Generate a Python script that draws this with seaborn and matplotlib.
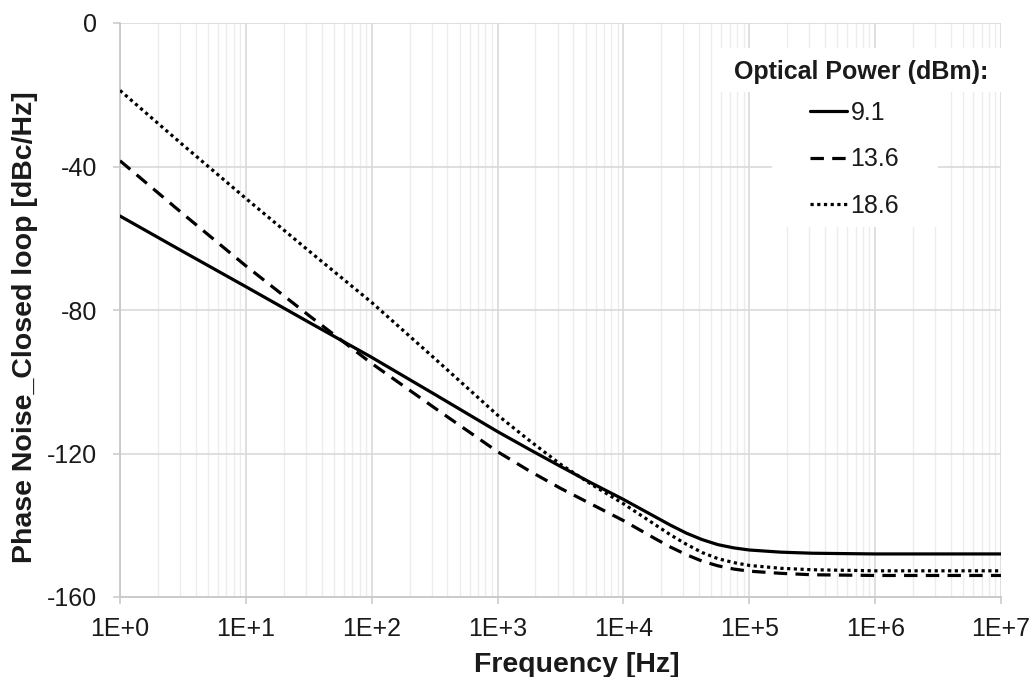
import numpy as np
import pandas as pd
import matplotlib
matplotlib.use("Agg")
import matplotlib.pyplot as plt
from matplotlib.patches import Rectangle
import seaborn as sns
from matplotlib.ticker import FixedLocator, FuncFormatter, LogLocator, NullFormatter

# ---- data (x = log10 frequency) ----
log_freq = [0, 0.5, 1, 1.5, 2, 2.5, 3, 3.25, 3.5, 3.75, 4, 4.125, 4.25, 4.375, 4.5,
            4.625, 4.75, 4.875, 5, 5.25, 5.5, 6, 7]
pn_9_1 = [-53.8, -63.7, -73.5, -83.4, -93.2, -103.5, -113.9, -118.8, -123.6, -128.3,
          -132.8, -135.2, -137.6, -140.0, -142.2, -144.0, -145.4, -146.3, -146.9,
          -147.5, -147.8, -148.0, -148.0]
pn_13_6 = [-38.4, -53.2, -67.7, -81.5, -94.9, -107.3, -119.5, -124.8, -129.7, -134.2,
           -138.7, -141.2, -143.7, -146.1, -148.2, -150.0, -151.3, -152.2, -152.8,
           -153.4, -153.8, -154.0, -154.0]
pn_18_6 = [-18.8, -34.0, -48.9, -63.5, -77.9, -93.5, -109.3, -116.3, -123.0, -128.7,
           -134.0, -136.9, -139.8, -142.7, -145.3, -147.6, -149.3, -150.4, -151.2,
           -152.0, -152.4, -152.7, -152.7]
series_labels = ["9.1", "13.6", "18.6"]
legend_title = "Optical Power (dBm):"
x_label = "Frequency [Hz]"
y_label = "Phase Noise_Closed loop [dBc/Hz]"
x_tick_labels = ["1E+0", "1E+1", "1E+2", "1E+3", "1E+4", "1E+5", "1E+6", "1E+7"]
y_ticks = [-160, -120, -80, -40, 0]

freq = [10 ** v for v in log_freq]
df = pd.DataFrame({
    "freq": freq * 3,
    "pn": pn_9_1 + pn_13_6 + pn_18_6,
    "power": sum([[s] * len(freq) for s in series_labels], []),
})

sns.set_style("white")
plt.rcParams["font.family"] = ["Liberation Sans", "DejaVu Sans"]
plt.rcParams["axes.unicode_minus"] = False

W, H = 1032, 677
fig = plt.figure(figsize=(W / 100, H / 100), dpi=100)
ax = fig.add_axes([120 / W, (H - 597) / H, (1001 - 120) / W, (597 - 23) / H])

styles = {
    "9.1": dict(linestyle="-"),
    "13.6": dict(linestyle=(0, (4.2, 2.6))),
    "18.6": dict(linestyle=(0, (1, 1.1))),
}
for lab in series_labels:
    sub = df[df["power"] == lab]
    sns.lineplot(data=sub, x="freq", y="pn", ax=ax, color="black", linewidth=2.3,
                 label=lab, zorder=3, **styles[lab])

ax.set_xscale("log")
ax.set_xlim(1, 1e7)
ax.set_ylim(-160, 0)

# ticks
ax.xaxis.set_major_locator(FixedLocator([10 ** i for i in range(8)]))
ax.xaxis.set_major_formatter(FuncFormatter(lambda v, p: x_tick_labels[int(round(np.log10(v)))]))
ax.xaxis.set_minor_locator(LogLocator(base=10, subs=np.arange(2, 10), numticks=100))
ax.xaxis.set_minor_formatter(NullFormatter())
ax.yaxis.set_major_locator(FixedLocator(y_ticks))
ax.yaxis.set_minor_locator(FixedLocator(list(range(-150, 0, 10))))

ax.tick_params(axis="both", which="major", labelsize=18, colors="#c8c8c8",
               labelcolor="#1a1a1a", length=5, width=1.1, direction="out")
ax.tick_params(axis="x", which="minor", length=0)
ax.tick_params(axis="y", which="minor", length=5, width=1.1, color="#c8c8c8", direction="out")
ax.tick_params(axis="x", which="major", pad=9.5)
ax.tick_params(axis="y", which="major", pad=11.5)
ax.tick_params(left=True, bottom=True)

# grid
ax.grid(True, axis="x", which="major", color="#d9d9d9", linewidth=1.2)
ax.grid(True, axis="x", which="minor", color="#ececec", linewidth=1.0)
ax.grid(True, axis="y", which="major", color="#d9d9d9", linewidth=1.2)
ax.set_axisbelow(True)

for side in ["top", "right"]:
    ax.spines[side].set_visible(False)
for side in ["left", "bottom"]:
    ax.spines[side].set_color("#c8c8c8")
    ax.spines[side].set_linewidth(1.3)

ax.set_xlabel(x_label, fontsize=20.5, fontweight="bold", color="#1a1a1a")
ax.set_ylabel(y_label, fontsize=20.5, fontweight="bold", color="#1a1a1a")
ax.xaxis.set_label_coords((576.5 - 120) / 881, -(652 - 597) / 574)
ax.yaxis.set_label_coords((38 - 120) / 881, (597 - 327) / 574)


def fig_px_rect(x0, y0, x1, y1):
    """white box given in figure pixel coordinates (y from the top)."""
    return Rectangle((x0 / W, 1 - y1 / H), (x1 - x0) / W, (y1 - y0) / H,
                     transform=fig.transFigure, facecolor="white", edgecolor="none",
                     zorder=1.5, clip_on=False)


ax.add_patch(fig_px_rect(720, 48, 1001, 92))
ax.add_patch(fig_px_rect(772, 92, 938, 227))

fig.text(861 / W, 1 - 72 / H, legend_title, ha="center", va="center",
         fontsize=18, fontweight="bold", color="#1a1a1a")

leg = ax.legend(loc="upper left", bbox_to_anchor=(810 / W, 1 - 101 / H),
                bbox_transform=fig.transFigure, frameon=False,
                fontsize=18, handlelength=1.48, handletextpad=0.14,
                labelspacing=0.9, borderpad=0, borderaxespad=0)
for t in leg.get_texts():
    t.set_color("#1a1a1a")
leg.set_zorder(5)

fig.savefig("out.png", dpi=100, facecolor="white")
